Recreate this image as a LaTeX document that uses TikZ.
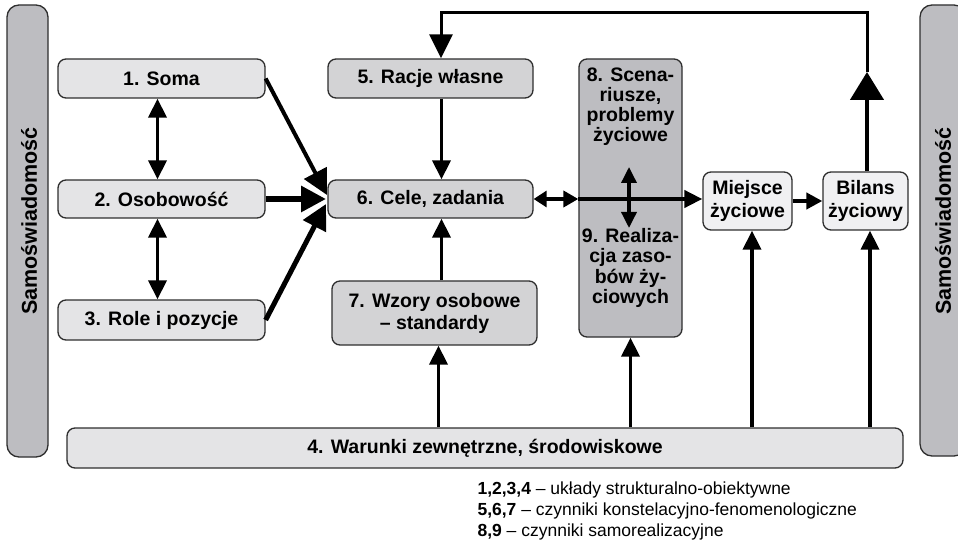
\documentclass[tikz,border=0pt]{standalone}
\usepackage{fontspec}
\setmainfont{Liberation Sans}
\usetikzlibrary{arrows.meta}
\definecolor{barg}{HTML}{BDBDC1}
\definecolor{lightg}{HTML}{E4E4E6}
\definecolor{midg}{HTML}{D3D3D5}
\definecolor{darkg}{HTML}{BDBDC1}
\definecolor{paleg}{HTML}{F0F0F2}
\definecolor{edge}{HTML}{2E2E2E}
\begin{document}
\begin{tikzpicture}[x=1pt,y=-1pt,
  box/.style={draw=edge, line width=1.3pt, rounded corners=8pt, align=center, inner sep=0pt,
    font=\fontsize{19.5}{22}\selectfont\bfseries},
  barbox/.style={draw=edge, line width=1.3pt, rounded corners=12pt, fill=barg},
  bartext/.style={font=\fontsize{21.5}{24}\selectfont\bfseries, rotate=90},
  arr/.style={line width=3.5pt, -{Triangle[length=19pt,width=18pt]}},
  dblarr/.style={line width=3.5pt, {Triangle[length=19pt,width=18pt]}-{Triangle[length=19pt,width=18pt]}},
  bigarr/.style={-{Triangle[length=25pt,width=25pt]}},
  legend/.style={anchor=west, font=\fontsize{17.5}{20}\selectfont}
]
\useasboundingbox (0,0) rectangle (958,545);
\clip (0,0) rectangle (958,545);

% side bars
\node[barbox, minimum width=41pt, minimum height=452pt] (lbar) at (27.5,231) {};
\node[bartext] (ltext) at (29,221) {Samoświadomość};
\node[barbox, minimum width=46pt, minimum height=451pt] (rbar) at (943,230.5) {};
\node[bartext] (rtext) at (943,221) {Samoświadomość};

% boxes
\node[box, fill=lightg, minimum width=207pt, minimum height=39pt] (b1) at (161.5,78.5) {1. Soma};
\node[box, fill=lightg, minimum width=207pt, minimum height=38pt] (b2) at (161.5,199) {2. Osobowość};
\node[box, fill=lightg, minimum width=207pt, minimum height=40pt] (b3) at (161.5,320) {3. Role i pozycje};
\node[box, fill=midg, minimum width=205pt, minimum height=39pt] (b5) at (430.5,78.5) {5. Racje własne};
\node[box, fill=midg, minimum width=205pt, minimum height=38pt] (b6) at (430.5,199) {6. Cele, zadania};
\node[box, fill=midg, minimum width=205pt, minimum height=64pt] (b7) at (434.5,313) {7. Wzory osobowe\\– standardy};
\node[box, fill=darkg, minimum width=103pt, minimum height=278pt] (b89) at (630.5,198) {};
\node[font=\fontsize{19.5}{20}\selectfont\bfseries, align=center] (t8) at (630.5,107) {8. Scena-\\riusze,\\problemy\\życiowe};
\node[font=\fontsize{19.5}{20.5}\selectfont\bfseries, align=center] (t9) at (630.5,268) {9. Realiza-\\cja zaso-\\bów ży-\\ciowych};
\node[box, fill=paleg, minimum width=89pt, minimum height=58pt, font=\fontsize{19.5}{23}\selectfont\bfseries] (bm) at (747.5,201) {Miejsce\\życiowe};
\node[box, fill=paleg, minimum width=85pt, minimum height=58pt, font=\fontsize{19.5}{23}\selectfont\bfseries] (bb) at (865.5,201) {Bilans\\życiowy};
\node[box, fill=lightg, minimum width=836pt, minimum height=40pt] (b4) at (485,448) {4. Warunki zewnętrzne, środowiskowe};

% left column double arrows
\draw[dblarr] ([xshift=-4pt]b1.south) -- ([xshift=-4pt]b2.north);
\draw[dblarr] ([xshift=-4pt]b2.south) -- ([xshift=-4pt]b3.north);

% converging arrows into 6
\coordinate (c1) at (327,195);
\coordinate (c2) at (326,199);
\coordinate (c3) at (326,204);
\draw[bigarr, line width=4pt] (b1.east) -- (c1);
\draw[bigarr, line width=5pt] (b3.east) -- (c3);
\draw[bigarr, line width=6pt] (b2.east) -- (c2);

% 5 -> 6, 7 -> 6
\draw[arr] ([xshift=11pt]b5.south) -- ([xshift=11pt]b6.north);
\draw[arr] ([xshift=7pt]b7.north) -- ([xshift=11pt]b6.south);

% 6 <-> 8/9 and on to Miejsce
\coordinate (j1) at (b6.east -| b89.west);
\coordinate (j2) at (b6.east -| bm.west);
\draw[line width=4pt, {Triangle[length=13pt,width=16pt]}-{Triangle[length=15pt,width=16pt]}] (b6.east) -- (j1);
\draw[line width=4pt, -{Triangle[length=18pt,width=17pt]}] (j1) -- (j2);
\draw[line width=4pt, -{Triangle[length=16pt,width=16pt]}] (bm.east) -- (bb.west);

% vertical double arrow inside 8/9
\coordinate (v1) at (629,167);
\coordinate (v2) at (629,228);
\draw[line width=3.5pt, {Triangle[length=16pt,width=15pt]}-{Triangle[length=16pt,width=15pt]}] (v1) -- (v2);

% feedback loop
\coordinate (f1) at (867,72);
\coordinate (f2) at (867,13);
\coordinate (f3) at (441,13);
\draw[line width=4.5pt, -{Triangle[length=28pt,width=33pt]}] ([xshift=1.5pt]bb.north) -- (f1);
\draw[line width=3pt, -{Triangle[length=24pt,width=23pt]}] (f1) -- (f2) -- (f3) -- (f3 |- b5.north);

% arrows from 4
\draw[arr] ([xshift=4pt]b7.south |- b4.north) -- ([xshift=4pt]b7.south);
\draw[arr] (b89.south |- b4.north) -- (b89.south);
\draw[arr] ([xshift=4.5pt]bm.south |- b4.north) -- ([xshift=4.5pt]bm.south);
\draw[arr] ([xshift=4.5pt]bb.south |- b4.north) -- ([xshift=4.5pt]bb.south);

% legend
\node[legend] (l1) at (474,490) {\textbf{1,2,3,4} – układy strukturalno-obiektywne};
\node[legend] (l2) at (474,511) {\textbf{5,6,7} – czynniki konstelacyjno-fenomenologiczne};
\node[legend] (l3) at (474,532) {\textbf{8,9} – czynniki samorealizacyjne};
\end{tikzpicture}
\end{document}
